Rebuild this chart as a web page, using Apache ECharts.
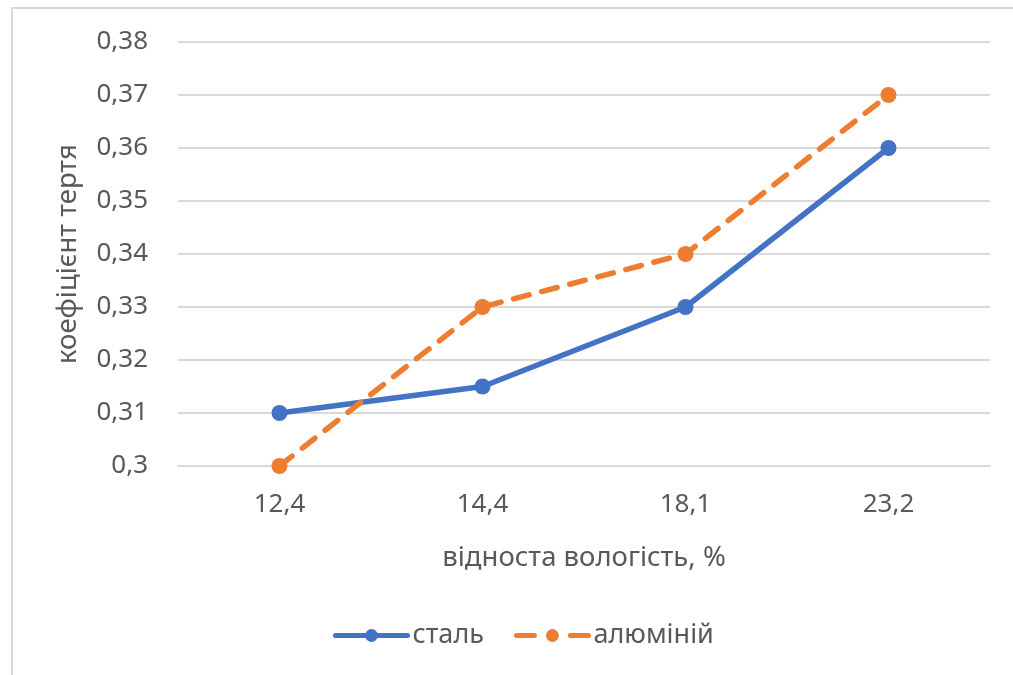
<!DOCTYPE html>
<html><head><meta charset="utf-8">
<script src="https://cdn.jsdelivr.net/npm/echarts@6/dist/echarts.min.js"></script>
<style>html,body{margin:0;padding:0;background:#fff}#c{width:1013px;height:675px}</style>
</head><body><div id="c"></div>
<script>
var categories = ['12,4', '14,4', '18,1', '23,2'];
var steel = [0.31, 0.315, 0.33, 0.36];
var aluminium = [0.30, 0.33, 0.34, 0.37];
var seriesNames = ['сталь', 'алюміній'];
var xName = 'відноста вологість, %';
var yName = 'коефіцієнт тертя';

var font = 'Noto Sans';
var txt = '#595959';
var chart = echarts.init(document.getElementById('c'));
chart.setOption({
  animation: false,
  graphic: [{type:'rect', shape:{x:12, y:8, width:1200, height:900}, style:{fill:'none', stroke:'#d9d9d9', lineWidth:2}}],
  grid: {left:178, right:23, top:42, bottom:209},
  legend: {
    top: 617, left: 328, itemWidth: 72, itemHeight: 16, itemGap: 30,
    textStyle: {fontFamily: font, fontSize: 27, color: txt},
    lineStyle: {width: 5, cap: 'round'},
    data: [
      {name: seriesNames[0]},
      {name: seriesNames[1], lineStyle: {type: [18, 36], width: 5, cap: 'round'}}
    ]
  },
  xAxis: {
    type: 'category', data: categories, boundaryGap: true,
    axisLine: {lineStyle: {color: '#d9d9d9', width: 2}},
    axisTick: {show: false},
    axisLabel: {fontFamily: font, fontSize: 26, color: txt, margin: 26},
    name: xName, nameLocation: 'middle', nameGap: 78,
    nameTextStyle: {fontFamily: font, fontSize: 27.5, color: txt}
  },
  yAxis: {
    type: 'value', min: 0.30, max: 0.38, interval: 0.01,
    axisLine: {show: false}, axisTick: {show: false},
    splitLine: {lineStyle: {color: '#d9d9d9', width: 2}},
    axisLabel: {fontFamily: font, fontSize: 26, color: txt, margin: 30,
      formatter: function(v){ return String(+v.toFixed(2)).replace('.', ','); }},
    name: yName, nameLocation: 'middle', nameGap: 96,
    nameTextStyle: {fontFamily: font, fontSize: 27.5, color: txt}
  },
  series: [
    {name: seriesNames[0], type: 'line', data: steel, symbol: 'circle', symbolSize: 16,
     itemStyle: {color: '#4472C4'}, lineStyle: {color: '#4472C4', width: 5.5, cap: 'round'}},
    {name: seriesNames[1], type: 'line', data: aluminium, symbol: 'circle', symbolSize: 16,
     itemStyle: {color: '#ED7D31'}, lineStyle: {color: '#ED7D31', width: 5.5, type: [16, 13], cap: 'round'}}
  ]
});
</script></body></html>
